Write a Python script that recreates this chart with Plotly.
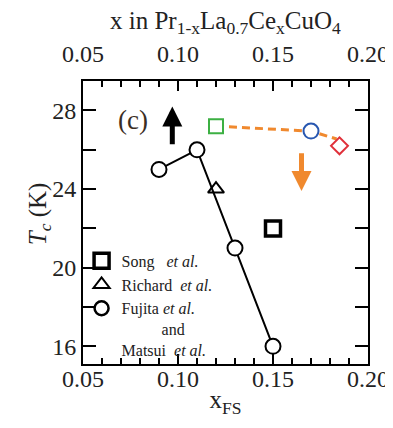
import plotly.graph_objects as go

# ---- data ----
fujita_x = [0.09, 0.11, 0.13, 0.15]
fujita_y = [25, 26, 21, 16]
richard_x = [0.12]
richard_y = [24]
song_x = [0.15]
song_y = [22]
green_x = [0.12]
green_y = [27.2]
blue_x = [0.17]
blue_y = [26.95]
red_x = [0.185]
red_y = [26.2]
trend_x = [0.12, 0.17, 0.1835]
trend_y = [27.2, 26.95, 26.55]
up_arrow = dict(x=0.097, tail=26.2, tip=28.2)
down_arrow = dict(x=0.165, tail=25.9, tip=23.9)

FONT = "Liberation Serif"
fig = go.Figure()

# orange dashed trend
fig.add_trace(go.Scatter(x=trend_x, y=trend_y, mode="lines",
                         line=dict(color="#f0892e", width=3, dash="8px,5px"),
                         showlegend=False, hoverinfo="skip"))
fig.add_trace(go.Scatter(x=green_x, y=green_y, mode="markers",
                         marker=dict(symbol="square", size=14, color="white",
                                     line=dict(color="#3cb043", width=2)),
                         showlegend=False))
fig.add_trace(go.Scatter(x=blue_x, y=blue_y, mode="markers",
                         marker=dict(symbol="circle", size=15, color="white",
                                     line=dict(color="#2857b0", width=2)),
                         showlegend=False))
fig.add_trace(go.Scatter(x=red_x, y=red_y, mode="markers",
                         marker=dict(symbol="diamond", size=13, color="white",
                                     line=dict(color="#e0303a", width=2)),
                         showlegend=False))

# Fujita line
fig.add_trace(go.Scatter(x=fujita_x, y=fujita_y, mode="lines",
                         line=dict(color="black", width=2),
                         showlegend=False, hoverinfo="skip"))
fig.add_trace(go.Scatter(x=song_x, y=song_y, mode="markers",
                         name="Song   <i>et al.</i>",
                         marker=dict(symbol="square-open", size=15,
                                     color="black", line=dict(width=3.5))))
fig.add_trace(go.Scatter(x=richard_x, y=richard_y, mode="markers",
                         name="Richard  <i>et al.</i>",
                         marker=dict(symbol="triangle-up-open", size=14,
                                     color="black", line=dict(width=2))))
fig.add_trace(go.Scatter(x=fujita_x, y=fujita_y, mode="markers",
                         showlegend=False,
                         marker=dict(symbol="circle", size=15, color="white",
                                     line=dict(color="black", width=2))))
fig.add_trace(go.Scatter(x=[None], y=[None], mode="markers",
                         name="Fujita <i>et al.</i><br>          and<br>Matsui  <i>et al.</i>",
                         marker=dict(symbol="circle", size=14, color="white",
                                     line=dict(color="black", width=2.5))))

# arrows
fig.add_annotation(x=up_arrow["x"], y=up_arrow["tip"], ax=up_arrow["x"], ay=up_arrow["tail"],
                   xref="x", yref="y", axref="x", ayref="y", text="",
                   showarrow=True, arrowhead=2, arrowsize=0.8, arrowwidth=5, arrowcolor="black")
fig.add_annotation(x=down_arrow["x"], y=down_arrow["tip"], ax=down_arrow["x"], ay=down_arrow["tail"],
                   xref="x", yref="y", axref="x", ayref="y", text="",
                   showarrow=True, arrowhead=2, arrowsize=0.8, arrowwidth=5, arrowcolor="#f0892e")

fig.add_annotation(x=0.116, y=0.922, xref="paper", yref="paper", text="(c)",
                   showarrow=False, font=dict(family=FONT, size=27, color="#3a2e24"))

# axis titles as annotations for exact placement
fig.add_annotation(x=0.5, y=1.205, xref="paper", yref="paper", yanchor="middle",
                   text="x in Pr<sub>1-x</sub>La<sub>0.7</sub>Ce<sub>x</sub>CuO<sub>4</sub>",
                   showarrow=False, font=dict(family=FONT, size=25, color="#222"))
fig.add_annotation(x=-0.215, y=0.53, xref="paper", yref="paper", textangle=-90,
                   text="<i>T<sub>c</sub></i> (K)",
                   showarrow=False, font=dict(family=FONT, size=25, color="#222"))

# page body has an 8px margin, so the figure is 385x420 drawn from (8, 8)
fig.update_layout(
    width=385, height=420,
    margin=dict(l=75, r=25, t=73, b=64, autoexpand=False),
    plot_bgcolor="white", paper_bgcolor="white",
    font=dict(family=FONT, size=24, color="#222"),
    legend=dict(x=-0.005, y=0.425, xanchor="left", yanchor="top",
                bgcolor="rgba(0,0,0,0)", font=dict(family=FONT, size=16, color="#222"),
                valign="top", tracegroupgap=0, itemwidth=30, traceorder="normal"),
    xaxis=dict(range=[0.05, 0.20], dtick=0.05, tick0=0.05, tickformat=".2f",
               ticks="inside", ticklen=10, tickwidth=1.5, tickcolor="black",
               minor=dict(dtick=0.01, ticks="inside", ticklen=6, tickwidth=1.5, tickcolor="black"),
               showline=True, linecolor="black", linewidth=2, mirror="allticks",
               showgrid=False, zeroline=False, automargin=False, ticklabelstandoff=-8,
               title=dict(text="x<sub>FS</sub>", standoff=0, font=dict(size=25))),
    xaxis2=dict(range=[0.05, 0.20], dtick=0.05, tick0=0.05, tickformat=".2f",
                overlaying="x", side="top", matches="x",
                ticks="outside", ticklen=8, tickcolor="rgba(0,0,0,0)",
                showline=False, showgrid=False, zeroline=False, automargin=False),
    yaxis=dict(range=[15.1, 29.5], dtick=4, tick0=16,
               ticks="inside", ticklen=13, tickwidth=1.5, tickcolor="black",
               minor=dict(dtick=2, ticks="inside", ticklen=7, tickwidth=1.5, tickcolor="black"),
               showline=True, linecolor="black", linewidth=2, mirror="allticks",
               showgrid=False, zeroline=False, automargin=False),
)
# dummy trace on xaxis2 so the top axis is shown
fig.add_trace(go.Scatter(x=[None], y=[None], xaxis="x2", showlegend=False, hoverinfo="skip"))

fig.write_html("out.html")
